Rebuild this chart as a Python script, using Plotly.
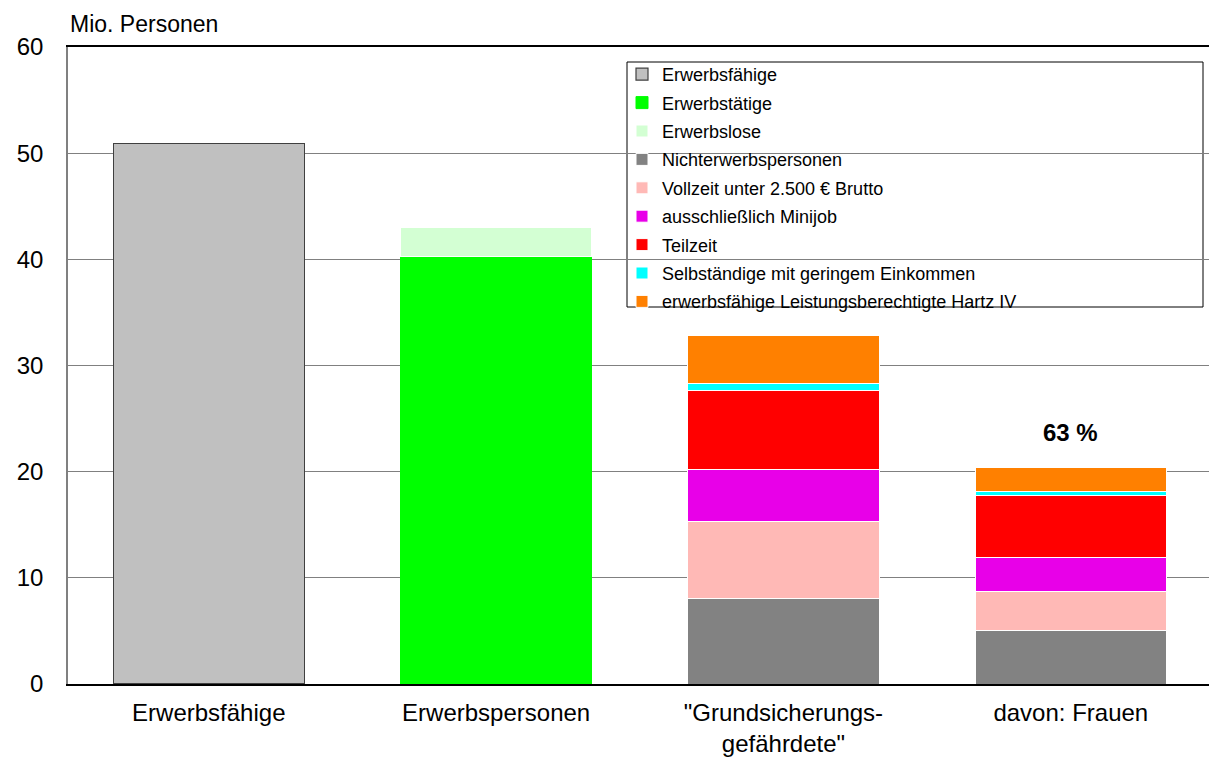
import plotly.graph_objects as go

categories = ["Erwerbsfähige", "Erwerbspersonen", "\"Grundsicherungs-<br>gefährdete\"", "davon: Frauen"]

series_names = [
    "Erwerbsfähige",
    "Erwerbstätige",
    "Erwerbslose",
    "Nichterwerbspersonen",
    "Vollzeit unter 2.500 € Brutto",
    "ausschließlich Minijob",
    "Teilzeit",
    "Selbständige mit geringem Einkommen",
    "erwerbsfähige Leistungsberechtigte Hartz IV",
]

erwerbsfaehige = [50.9, None, None, None]
erwerbstaetige = [None, 40.3, None, None]
erwerbslose = [None, 2.7, None, None]
nichterwerbspersonen = [None, None, 8.1, 5.0]
vollzeit = [None, None, 7.25, 3.7]
minijob = [None, None, 4.85, 3.2]
teilzeit = [None, None, 7.4, 5.9]
selbstaendige = [None, None, 0.7, 0.35]
hartz4 = [None, None, 4.5, 2.25]

series_values = [erwerbsfaehige, erwerbstaetige, erwerbslose, nichterwerbspersonen,
                 vollzeit, minijob, teilzeit, selbstaendige, hartz4]

colors = ["#C0C0C0", "#00FF00", "#D3FFD3", "#828282", "#FFB9B6",
          "#E800E8", "#FF0000", "#00FFFF", "#FF8000"]
line_colors = ["#404040", "#00FF00", "#FFFFFF", "#FFFFFF", "#FFFFFF",
               "#FFFFFF", "#FFFFFF", "#FFFFFF", "#FFFFFF"]

annotation_text = "63 %"
annotation_value = 23.7

x_pos = list(range(len(categories)))

FONT = "Liberation Sans, Arial, sans-serif"

# plot area geometry (pixels)
W, H = 1209, 760
L, R, T, B = 68, 0, 47, 76
plot_w = W - L - R
plot_h = H - T - B

def px_x(p):
    return (p - L) / plot_w

def px_y(p):
    return (H - B - p) / plot_h

fig = go.Figure()
for i, (name, vals) in enumerate(zip(series_names, series_values)):
    fig.add_trace(go.Bar(
        x=x_pos, y=vals, name=name,
        marker=dict(color=colors[i], line=dict(color=line_colors[i], width=1.2 if i == 0 else 1)),
        width=0.665,
        legendgroup="g%d" % i,
        hoverinfo="y+name",
    ))

fig.add_annotation(x=3, y=annotation_value, xref="x", yref="y", text="<b>%s</b>" % annotation_text,
                   showarrow=False, font=dict(family=FONT, size=24, color="#000000"))
fig.add_annotation(x=0, y=px_y(24), xref="paper", yref="paper", text="Mio. Personen",
                   xanchor="left", yanchor="middle", showarrow=False,
                   font=dict(family=FONT, size=23, color="#000000"))

# legend frame
fig.add_shape(type="rect", xref="paper", yref="paper",
              x0=px_x(627), x1=px_x(1203), y0=px_y(307), y1=px_y(62),
              line=dict(color="#000000", width=1), fillcolor="white", layer="below")

fig.update_layout(
    width=W, height=H,
    margin=dict(l=L, r=R, t=T, b=B),
    paper_bgcolor="white", plot_bgcolor="white",
    barmode="stack",
    font=dict(family=FONT, size=24, color="#000000"),
    legend=dict(
        x=px_x(622), y=px_y(56), xanchor="left", yanchor="top",
        traceorder="grouped", tracegroupgap=2,
        borderwidth=0, bgcolor="rgba(0,0,0,0)",
        font=dict(family=FONT, size=18, color="#000000"),
        itemwidth=30,
    ),
    xaxis=dict(
        range=[-0.49, 3.481],
        tickmode="array", tickvals=x_pos, ticktext=categories,
        showline=True, linecolor="#000000", linewidth=1.5, mirror=True,
        ticks="outside", ticklen=6, tickcolor="rgba(0,0,0,0)",
        showgrid=False, zeroline=False, automargin=False,
        tickfont=dict(family=FONT, size=24),
    ),
    yaxis=dict(
        range=[0, 60], dtick=10,
        showline=True, linecolor="#808080", linewidth=1.5,
        gridcolor="#808080", gridwidth=1,
        ticks="outside", ticklen=18, tickcolor="rgba(0,0,0,0)",
        zeroline=False, automargin=False,
        tickfont=dict(family=FONT, size=24),
    ),
)

fig.write_html("out.html", config={"displayModeBar": False},
               post_script="document.body.style.margin='0';document.body.style.overflow='hidden';")
